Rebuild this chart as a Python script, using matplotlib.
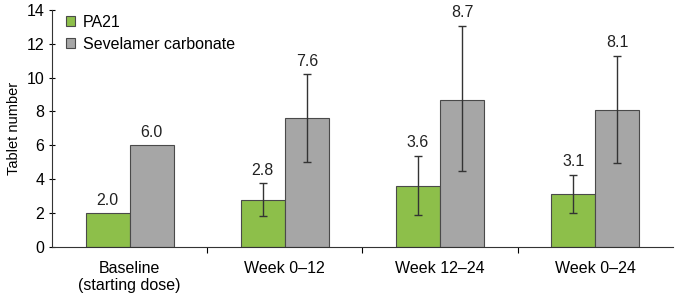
import numpy as np
import matplotlib
matplotlib.use('Agg')
import matplotlib.pyplot as plt

# data
groups = ['Baseline\n(starting dose)', 'Week 0\u201312', 'Week 12\u201324', 'Week 0\u201324']
pa21 = [2.0, 2.8, 3.6, 3.1]
sevelamer = [6.0, 7.6, 8.7, 8.1]
pa21_low = [np.nan, 1.85, 1.9, 2.0]
pa21_high = [np.nan, 3.75, 5.4, 4.25]
sev_low = [np.nan, 5.0, 4.5, 4.95]
sev_high = [np.nan, 10.2, 13.05, 11.3]

plt.rcParams['font.family'] = ['Liberation Sans', 'DejaVu Sans']

fig = plt.figure(figsize=(6.75, 2.99), dpi=100)
ax = fig.add_axes([0.077, 0.174, 0.92, 0.793])

x = np.arange(len(groups))
w = 0.284
green = '#8dbf4a'
grey = '#a6a6a6'

ax.bar(x - w / 2, pa21, w, color=green, edgecolor='#4a4a4a', linewidth=0.8, label='PA21', zorder=2)
ax.bar(x + w / 2, sevelamer, w, color=grey, edgecolor='#4a4a4a', linewidth=0.8,
       label='Sevelamer carbonate', zorder=2)

# error bars (asymmetric ranges)
for xs, vals, lo, hi in [(x - w / 2, pa21, pa21_low, pa21_high),
                         (x + w / 2, sevelamer, sev_low, sev_high)]:
    vals = np.array(vals)
    lo = np.array(lo)
    hi = np.array(hi)
    m = ~np.isnan(lo)
    ax.errorbar(xs[m], vals[m], yerr=[vals[m] - lo[m], hi[m] - vals[m]], fmt='none',
                ecolor='#333333', elinewidth=1.0, capsize=3, capthick=1.0, zorder=3)

# value labels
for xs, vals, hi in [(x - w / 2, pa21, pa21_high), (x + w / 2, sevelamer, sev_high)]:
    for xi, v, h in zip(xs, vals, hi):
        top = v if np.isnan(h) else h
        ax.annotate(f'{v:.1f}', (xi, top), xytext=(0, 4), textcoords='offset points',
                    ha='center', va='bottom', fontsize=11.5, color='#222222')

ax.set_xlim(-0.5, 3.5)
ax.set_ylim(0, 14)
ax.set_yticks(range(0, 15, 2))
ax.set_xticks(x)
ax.set_xticklabels(groups, fontsize=11.5)
ax.set_xticks([0.5, 1.5, 2.5], minor=True)
ax.tick_params(axis='x', which='major', length=0, pad=10)
ax.tick_params(axis='x', which='minor', length=4, direction='out', width=0.8)
ax.tick_params(axis='y', labelsize=11.5, length=4, direction='inout', width=0.8)
ax.set_ylabel('Tablet number', fontsize=10.5, labelpad=4)

for s in ['top', 'right']:
    ax.spines[s].set_visible(False)
for s in ['left', 'bottom']:
    ax.spines[s].set_linewidth(0.8)
    ax.spines[s].set_color('#333333')

leg = ax.legend(loc='upper left', bbox_to_anchor=(0.0, 1.04), frameon=False, fontsize=11.5,
                handlelength=0.55, handleheight=0.55, handletextpad=0.5, labelspacing=0.45)

fig.savefig('out.png', dpi=100)
